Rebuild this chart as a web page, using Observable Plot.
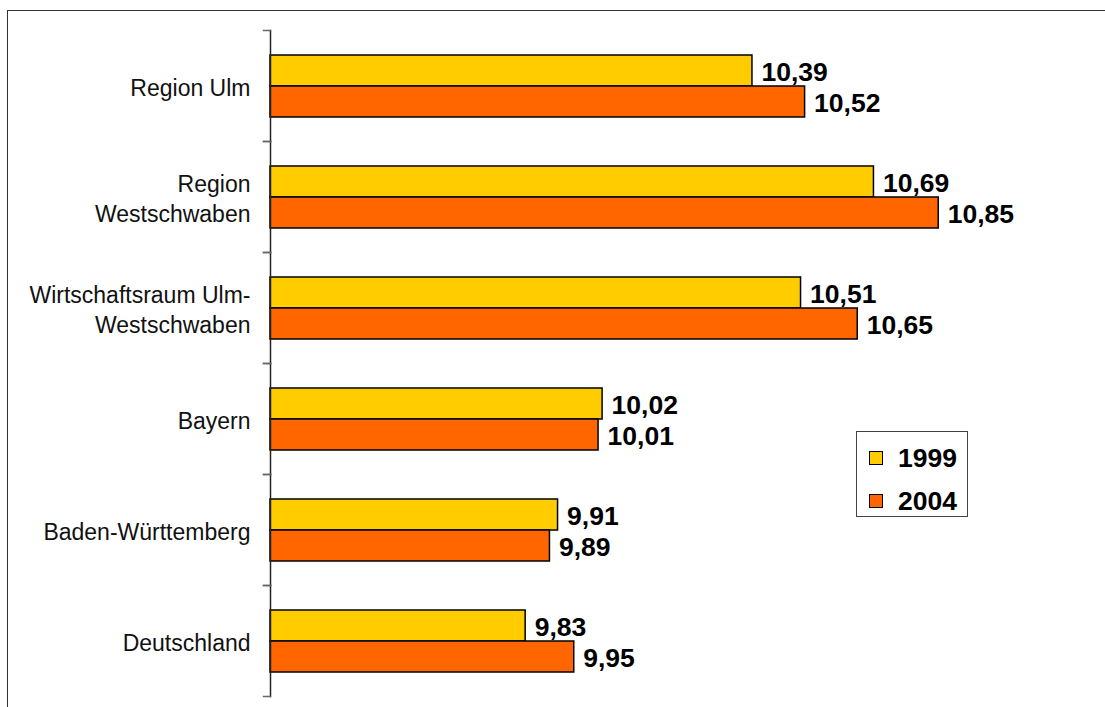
<!DOCTYPE html>
<html>
<head>
<meta charset="utf-8">
<script src="https://cdn.jsdelivr.net/npm/d3@7"></script>
<script src="https://cdn.jsdelivr.net/npm/@observablehq/plot@0.6"></script>
<style>
  html, body { margin: 0; padding: 0; background: #fff; overflow: hidden; }
  #wrap { position: relative; width: 1105px; height: 707px; overflow: hidden; font-family: "Liberation Sans", Arial, sans-serif; }
  #bTop { position: absolute; left: 7px; top: 10px; width: 1098px; height: 0; border-top: 1.5px solid #333; }
  #bLeft { position: absolute; left: 7px; top: 10px; width: 0; height: 697px; border-left: 1.5px solid #333; }
  #chart { position: absolute; left: 0; top: 0; }
  #legend { position: absolute; left: 856px; top: 431px; width: 112px; height: 86px; border: 1px solid #444; background: #fff; box-sizing: border-box; }
  .item { position: absolute; left: 12px; height: 30px; display: flex; align-items: center; font-weight: bold; font-size: 26.5px; color: #000; }
  .sw { width: 12px; height: 12px; border: 1px solid #000; margin-right: 15px; }
</style>
</head>
<body>
<div id="wrap">
  <div id="bTop"></div>
  <div id="bLeft"></div>
  <div id="chart"></div>
  <div id="legend"></div>
</div>
<script>
const categories = ["Region Ulm", "Region\nWestschwaben", "Wirtschaftsraum Ulm-\nWestschwaben", "Bayern", "Baden-Württemberg", "Deutschland"];
const years = ["1999", "2004"];
const values1999 = [10.39, 10.69, 10.51, 10.02, 9.91, 9.83];
const values2004 = [10.52, 10.85, 10.65, 10.01, 9.89, 9.95];
const colors = ["#FFCC00", "#FF6600"];
const xDomain = [9.2, 11.2];

const data = categories.flatMap((c, i) => [
  {category: c, year: years[0], value: values1999[i]},
  {category: c, year: years[1], value: values2004[i]}
]);

const W = 1105, H = 707, mL = 270, mR = 25;
const plotW = W - mL - mR;

const chart = Plot.plot({
  width: W, height: H,
  marginLeft: mL, marginRight: mR, marginTop: 28, marginBottom: 10,
  style: {fontFamily: "'Liberation Sans', Arial, sans-serif", background: "transparent"},
  x: {domain: xDomain, axis: null},
  y: {domain: years, paddingInner: 0, paddingOuter: 0.77, axis: null},
  fy: {domain: categories, padding: 0, axis: null},
  color: {domain: years, range: colors},
  marks: [
    Plot.barX(data, {fy: "category", y: "year", x1: () => xDomain[0], x2: "value", fill: "year", stroke: "#000", strokeWidth: 1.5}),
    Plot.text(data, {fy: "category", y: "year", x: "value", text: d => d.value.toFixed(2).replace(".", ","), textAnchor: "start", dx: 9, dy: 2, fontSize: 26.5, fontWeight: "bold", fill: "#000", style: "letter-spacing:0.6px"}),
    Plot.text(categories, {fy: d => d, text: d => d, frameAnchor: "left", textAnchor: "end", dx: -20, fontSize: 23, lineHeight: 1.32, fill: "#111", style: "letter-spacing:0.3px"}),
    Plot.frame({anchor: "left", stroke: "#222", strokeWidth: 1.5}),
    Plot.frame({anchor: "top", insetLeft: -7, insetRight: plotW, stroke: "#666", strokeWidth: 1.5}),
    Plot.frame({anchor: "bottom", insetLeft: -7, insetRight: plotW, stroke: "#666", strokeWidth: 1.5})
  ]
});
document.getElementById("chart").appendChild(chart);

const legend = document.getElementById("legend");
years.forEach((y, i) => {
  const item = document.createElement("div");
  item.className = "item";
  item.style.top = (11 + i * 43) + "px";
  const sw = document.createElement("div");
  sw.className = "sw";
  sw.style.background = colors[i];
  const t = document.createElement("span");
  t.textContent = y;
  item.appendChild(sw);
  item.appendChild(t);
  legend.appendChild(item);
});
</script>
</body>
</html>
